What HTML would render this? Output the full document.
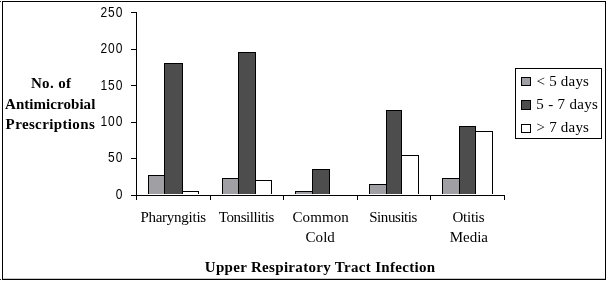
<!DOCTYPE html>
<html><head><meta charset="utf-8"><title>Chart</title>
<style>
html,body{margin:0;padding:0;background:#fff}
#c{position:relative;width:608px;height:281px;overflow:hidden;background:#fff}
#c svg{position:absolute;left:0;top:0}
#c span{position:absolute;white-space:pre;color:#000}
</style></head><body>
<div id="c">
<svg width="608" height="281" viewBox="0 0 608 281" shape-rendering="crispEdges">
<path d="M2.5 1.5H605.5V279.5H2.5Z" fill="#fff" stroke="#000" stroke-width="1"/>
<rect x="3" y="278" width="602" height="1" fill="#c8c8c8"/>
<rect x="0" y="1" width="1" height="1" fill="#222"/><rect x="0" y="279" width="1" height="1" fill="#222"/>
<rect x="148" y="175" width="17" height="19" fill="#a0a0a4"/>
<path d="M148.5 194V175.5H164.5V194" fill="none" stroke="#000" stroke-width="1"/>
<rect x="164" y="63" width="19" height="131" fill="#4d4d4d"/>
<path d="M164.5 194V63.5H182.5V194" fill="none" stroke="#000" stroke-width="1"/>
<rect x="182" y="191" width="17" height="3" fill="#ffffff"/>
<path d="M182.5 194V191.5H198.5V194" fill="none" stroke="#000" stroke-width="1"/>
<rect x="222" y="178" width="17" height="16" fill="#a0a0a4"/>
<path d="M222.5 194V178.5H238.5V194" fill="none" stroke="#000" stroke-width="1"/>
<rect x="238" y="52" width="18" height="142" fill="#4d4d4d"/>
<path d="M238.5 194V52.5H255.5V194" fill="none" stroke="#000" stroke-width="1"/>
<rect x="255" y="180" width="17" height="14" fill="#ffffff"/>
<path d="M255.5 194V180.5H271.5V194" fill="none" stroke="#000" stroke-width="1"/>
<rect x="295" y="191" width="18" height="3" fill="#a0a0a4"/>
<path d="M295.5 194V191.5H312.5V194" fill="none" stroke="#000" stroke-width="1"/>
<rect x="312" y="169" width="18" height="25" fill="#4d4d4d"/>
<path d="M312.5 194V169.5H329.5V194" fill="none" stroke="#000" stroke-width="1"/>
<rect x="369" y="184" width="18" height="10" fill="#a0a0a4"/>
<path d="M369.5 194V184.5H386.5V194" fill="none" stroke="#000" stroke-width="1"/>
<rect x="386" y="110" width="16" height="84" fill="#4d4d4d"/>
<path d="M386.5 194V110.5H401.5V194" fill="none" stroke="#000" stroke-width="1"/>
<rect x="401" y="155" width="18" height="39" fill="#ffffff"/>
<path d="M401.5 194V155.5H418.5V194" fill="none" stroke="#000" stroke-width="1"/>
<rect x="442" y="178" width="18" height="16" fill="#a0a0a4"/>
<path d="M442.5 194V178.5H459.5V194" fill="none" stroke="#000" stroke-width="1"/>
<rect x="459" y="126" width="17" height="68" fill="#4d4d4d"/>
<path d="M459.5 194V126.5H475.5V194" fill="none" stroke="#000" stroke-width="1"/>
<rect x="475" y="131" width="18" height="63" fill="#ffffff"/>
<path d="M475.5 194V131.5H492.5V194" fill="none" stroke="#000" stroke-width="1"/>
<line x1="136.5" y1="12" x2="136.5" y2="200" stroke="#000" stroke-width="1"/>
<line x1="131" y1="195.5" x2="505" y2="195.5" stroke="#000" stroke-width="1"/>
<line x1="131" y1="12.5" x2="137" y2="12.5" stroke="#000" stroke-width="1"/>
<line x1="131" y1="49.5" x2="137" y2="49.5" stroke="#000" stroke-width="1"/>
<line x1="131" y1="85.5" x2="137" y2="85.5" stroke="#000" stroke-width="1"/>
<line x1="131" y1="122.5" x2="137" y2="122.5" stroke="#000" stroke-width="1"/>
<line x1="131" y1="158.5" x2="137" y2="158.5" stroke="#000" stroke-width="1"/>
<line x1="210.5" y1="195" x2="210.5" y2="200" stroke="#000" stroke-width="1"/>
<line x1="283.5" y1="195" x2="283.5" y2="200" stroke="#000" stroke-width="1"/>
<line x1="357.5" y1="195" x2="357.5" y2="200" stroke="#000" stroke-width="1"/>
<line x1="430.5" y1="195" x2="430.5" y2="200" stroke="#000" stroke-width="1"/>
<line x1="504.5" y1="195" x2="504.5" y2="200" stroke="#000" stroke-width="1"/>
<rect x="515.5" y="68.5" width="86" height="70" fill="#fff" stroke="#000" stroke-width="1"/>
<rect x="521.5" y="77.5" width="9" height="8" fill="#a0a0a4" stroke="#000" stroke-width="1"/>
<rect x="521.5" y="100.5" width="9" height="9" fill="#4d4d4d" stroke="#000" stroke-width="1"/>
<rect x="521.5" y="124.5" width="9" height="8" fill="#ffffff" stroke="#000" stroke-width="1"/>
</svg>
<span style="left:140.4px;top:208.6px;font:400 15px/normal 'Liberation Serif',serif;letter-spacing:-0.26px">Pharyngitis</span>
<span style="left:218.8px;top:208.6px;font:400 15px/normal 'Liberation Serif',serif;letter-spacing:-0.42px">Tonsillitis</span>
<span style="left:292.5px;top:208.6px;font:400 15px/normal 'Liberation Serif',serif;letter-spacing:0.08px">Common</span>
<span style="left:305.6px;top:229.1px;font:400 15px/normal 'Liberation Serif',serif;letter-spacing:0.02px">Cold</span>
<span style="left:369.2px;top:208.6px;font:400 15px/normal 'Liberation Serif',serif;letter-spacing:-0.43px">Sinusitis</span>
<span style="left:452.5px;top:208.6px;font:400 15px/normal 'Liberation Serif',serif;letter-spacing:-0.26px">Otitis</span>
<span style="left:449.8px;top:229.1px;font:400 15px/normal 'Liberation Serif',serif;letter-spacing:-0.04px">Media</span>
<span style="left:204.8px;top:258.6px;font:700 15px/normal 'Liberation Serif',serif;letter-spacing:0.31px">Upper Respiratory Tract Infection</span>
<span style="left:30.9px;top:74.6px;font:700 15px/normal 'Liberation Serif',serif;letter-spacing:0.37px">No. of</span>
<span style="left:5.0px;top:95.6px;font:700 15px/normal 'Liberation Serif',serif;letter-spacing:0.05px">Antimicrobial</span>
<span style="left:5.6px;top:115.6px;font:700 15px/normal 'Liberation Serif',serif;letter-spacing:0.37px">Prescriptions</span>
<span style="left:536.6px;top:72.6px;font:400 15px/normal 'Liberation Serif',serif;letter-spacing:0.20px">&lt; 5 days</span>
<span style="left:536.3px;top:95.6px;font:400 15px/normal 'Liberation Serif',serif;letter-spacing:0.31px">5 - 7 days</span>
<span style="left:536.6px;top:118.6px;font:400 15px/normal 'Liberation Serif',serif;letter-spacing:0.20px">&gt; 7 days</span>
<span style="left:100.38px;top:6.04px;font:400 12px/normal 'Liberation Sans',sans-serif;letter-spacing:1.0px;transform:scaleY(1.26);transform-origin:0 10.86px">250</span>
<span style="left:100.38px;top:42.39px;font:400 12px/normal 'Liberation Sans',sans-serif;letter-spacing:1.0px;transform:scaleY(1.26);transform-origin:0 10.86px">200</span>
<span style="left:100.38px;top:78.74px;font:400 12px/normal 'Liberation Sans',sans-serif;letter-spacing:1.0px;transform:scaleY(1.26);transform-origin:0 10.86px">150</span>
<span style="left:100.38px;top:115.09px;font:400 12px/normal 'Liberation Sans',sans-serif;letter-spacing:1.0px;transform:scaleY(1.26);transform-origin:0 10.86px">100</span>
<span style="left:108.05px;top:151.44px;font:400 12px/normal 'Liberation Sans',sans-serif;letter-spacing:1.0px;transform:scaleY(1.26);transform-origin:0 10.86px">50</span>
<span style="left:115.73px;top:187.79px;font:400 12px/normal 'Liberation Sans',sans-serif;letter-spacing:1.0px;transform:scaleY(1.26);transform-origin:0 10.86px">0</span>
</div>
</body></html>
